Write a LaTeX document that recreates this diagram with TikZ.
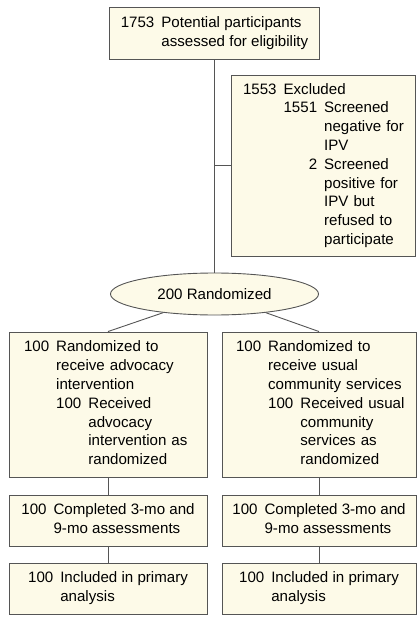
\documentclass[tikz,border=0pt]{standalone}
\usepackage{fontspec}
\setmainfont{Liberation Sans}
\usetikzlibrary{shapes.geometric}

\definecolor{boxfill}{RGB}{253,250,232}
\definecolor{boxline}{RGB}{85,85,85}

\newcommand{\hang}[1]{\begin{tabular}[t]{@{}r@{\hspace{7pt}}l@{}}#1\end{tabular}}

\begin{document}
\begin{tikzpicture}[x=1pt, y=-1pt,
    every node/.style={font=\fontsize{15.1}{18.8}\selectfont},
    box/.style={rectangle, draw=boxline, fill=boxfill, line width=0.9pt, inner ysep=0pt},
    link/.style={draw=boxline, line width=0.9pt}]
    \useasboundingbox (0,0) rectangle (417,620);
    % Enrollment
    \node[box, minimum width=210, minimum height=52, align=center] (Assessed) at (214.5,33)
        {\hang{1753 & Potential participants\\ & assessed for eligibility}};
    \node[box, minimum height=181, text width=160, inner xsep=12, align=left] (Excluded) at (323,165.5)
        {\hang{1553 & Excluded\\
            & \hang{1551 & Screened\\ & negative for\\ & IPV\\
                    2 & Screened\\ & positive for\\ & IPV but\\ & refused to\\ & participate}}};
    \node[ellipse, draw=boxline, fill=boxfill, line width=0.9pt, inner sep=0pt,
        minimum width=208, minimum height=42] (Rand) at (214.5,294) {200 Randomized};
    \coordinate (Split) at (Assessed.south |- Excluded.west);
    \draw[link] (Assessed) -- (Rand);
    \draw[link] (Split) -- (Excluded.west);
    % Allocation
    \node[box, minimum height=145, text width=168, inner xsep=15, align=left] (Arm-1) at (108,404.5)
        {\hang{100 & Randomized to\\ & receive advocacy\\ & intervention\\
            & \hang{100 & Received\\ & advocacy\\ & intervention as\\ & randomized}}};
    \node[box, minimum height=145, text width=166, inner xsep=14, align=left] (Arm-2) at (319,404.5)
        {\hang{100 & Randomized to\\ & receive usual\\ & community services\\
            & \hang{100 & Received usual\\ & community\\ & services as\\ & randomized}}};
    \draw[link] (Rand.200) -- (Arm-1.north);
    \draw[link] (Rand.-20) -- (Arm-2.north);
    % Follow-up and analysis
    \foreach \i/\x/\w in {1/108/198,2/319/194} {
        \node[box, minimum width=\w, minimum height=51, align=center] (Done-\i) at (\x,520.5)
            {\hang{100 & Completed 3-mo and\\ & 9-mo assessments}};
        \node[box, minimum width=\w, minimum height=51, align=center] (Primary-\i) at (\x,588.5)
            {\hang{100 & Included in primary\\ & analysis}};
        \draw[link] (Arm-\i) -- (Done-\i);
        \draw[link] (Done-\i) -- (Primary-\i);
    }
\end{tikzpicture}
\end{document}
